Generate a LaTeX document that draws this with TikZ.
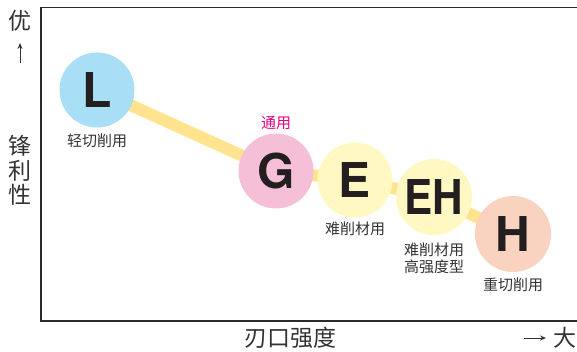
\documentclass[tikz,border=0pt]{standalone}
\usepackage{fontspec}
\setmainfont{TeX Gyre Heros}
\newfontfamily\cjk{Noto Sans CJK SC}
\usetikzlibrary{arrows.meta}
\definecolor{framec}{HTML}{2B2B2B}
\definecolor{bandc}{HTML}{FFE38F}
\definecolor{lblue}{HTML}{A9DEF7}
\definecolor{gpink}{HTML}{F5C0D7}
\definecolor{eyellow}{HTML}{FFF8C2}
\definecolor{hpeach}{HTML}{F9D2C0}
\definecolor{letterc}{HTML}{231F20}
\definecolor{textc}{HTML}{333333}
\definecolor{magentac}{HTML}{E4007F}
\begin{document}
\begin{tikzpicture}[x=1pt,y=-1pt,
  ball/.style={circle,minimum size=75pt,inner sep=0pt,font=\fontsize{48}{48}\selectfont\bfseries,text=letterc},
  lbl/.style={font=\cjk\fontsize{15}{17}\selectfont,text=textc,align=center,inner sep=0pt},
  axis/.style={font=\cjk\fontsize{23}{24}\selectfont,text=textc,inner sep=0pt},
  frameline/.style={draw=framec,line width=1.8pt}]
\useasboundingbox (0,0) rectangle (577,352);
% frame
\coordinate (tr) at (578,7.5);
\coordinate (tl) at (41,7.5);
\coordinate (bl) at (41,321);
\coordinate (br) at (578,321);
\draw[frameline] (tr) -- (tl) -- (bl) -- (br);
% circle centres
\coordinate (cL) at (97,90);
\coordinate (cG) at (276,171);
\coordinate (cE) at (355,180);
\coordinate (cEH) at (434,197);
\coordinate (cH) at (513,234);
% band
\draw[bandc,line width=12pt,line join=round] (cL) -- (cG) -- (cE) -- (cEH) -- (cH);
% balls
\node[ball,fill=lblue] (L) at (cL) {L};
\node[ball,fill=gpink] (G) at (cG) {G};
\node[ball,fill=eyellow] (E) at (cE) {E};
\node[ball,fill=eyellow,minimum size=76pt] (EH) at (cEH) {\scalebox{0.88}[1]{EH}};
\node[ball,fill=hpeach,minimum size=76pt] (H) at (cH) {H};
% labels
\node[lbl] (tL) at (97,141) {轻切削用};
\node[lbl,text=magentac] (tG) at (276,123) {通用};
\node[lbl] (tE) at (355,229) {难削材用};
\node[lbl] (tEH) at (434,258.5) {难削材用\\高强度型};
\node[lbl] (tH) at (513,285) {重切削用};
% axes labels
\node[axis] (you) at (20,21) {优};
\coordinate (ua) at (20,63);
\coordinate (ub) at (20,43);
\draw[textc,line width=1pt,-{Stealth[length=6pt,width=5pt]}] (ua) -- (ub);
\node[axis] (f1) at (20,146) {锋};
\node[axis] (f2) at (20,171) {利};
\node[axis] (f3) at (20,195) {性};
\node[axis] (xlab) at (290,338) {刃口强度};
\coordinate (ra) at (524,338);
\coordinate (rb) at (546,338);
\draw[textc,line width=1pt,-{Stealth[length=6pt,width=5pt]}] (ra) -- (rb);
\node[axis] (da) at (565,338) {大};
\end{tikzpicture}
\end{document}
